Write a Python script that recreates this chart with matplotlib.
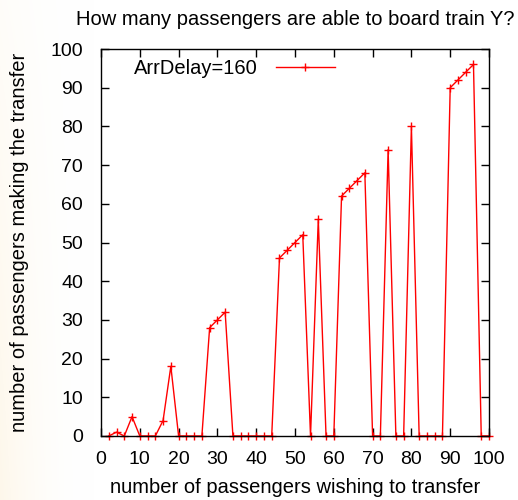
import matplotlib
matplotlib.use("Agg")
import matplotlib.pyplot as plt
import numpy as np

plt.rcParams['font.family'] = ['Liberation Sans', 'DejaVu Sans']

x_vals = list(range(2, 101, 2))
y_vals = [0, 1, 0, 5, 0, 0, 0, 4, 18, 0,
          0, 0, 0, 28, 30, 32, 0, 0, 0, 0,
          0, 0, 46, 48, 50, 52, 0, 56, 0, 0,
          62, 64, 66, 68, 0, 0, 74, 0, 0, 80,
          0, 0, 0, 0, 90, 92, 94, 96, 0, 0]
series_label = "ArrDelay=160"
title = "How many passengers are able to board train Y?"
xlabel = "number of passengers wishing to transfer"
ylabel = "number of passengers making the transfer"
ticks = list(range(0, 101, 10))

fig = plt.figure(figsize=(5.18, 5.0), dpi=100)

# faint background gradient on the left
bg = fig.add_axes([0, 0, 1, 1], zorder=-10)
bg.axis('off')
w, h = 518, 500
xx = np.linspace(0, 1, w)[None, :]
yy = np.linspace(0, 1, h)[:, None]
strength = np.clip(1 - xx / 0.18, 0, 1) ** 2 * (0.3 + 0.7 * yy)
img = np.ones((h, w, 3))
img[..., 0] = 1 - strength * 0.005
img[..., 1] = 1 - strength * 0.03
img[..., 2] = 1 - strength * 0.08
bg.imshow(img, aspect='auto', extent=[0, 1, 0, 1], origin='upper')

fs = 14.5
ax = fig.add_axes([101/518, 1 - 436/500, 388/518, 387/500])
ax.patch.set_alpha(0)
ax.plot(x_vals, y_vals, color='red', lw=1.0, marker='+', ms=6, mew=1.0,
        label=series_label, clip_on=False)
ax.set_xlim(0, 100)
ax.set_ylim(0, 100)
ax.set_xticks(ticks)
ax.set_yticks(ticks)
ax.tick_params(direction='in', top=True, right=True, length=6, width=1,
               labelsize=14)
ax.tick_params(axis='x', pad=11)
ax.tick_params(axis='y', pad=13)
for s in ax.spines.values():
    s.set_linewidth(1)
ax.set_title(title, fontsize=fs, pad=17)
ax.set_xlabel(xlabel, fontsize=fs, labelpad=7)
ax.set_ylabel(ylabel, fontsize=fs, labelpad=15)
ax.legend(loc='upper left', frameon=False, markerfirst=False, fontsize=fs,
          handlelength=2.9, handletextpad=0.9, borderaxespad=0.2,
          bbox_to_anchor=(0.055, 1.006))

fig.savefig("out.png", dpi=100)
